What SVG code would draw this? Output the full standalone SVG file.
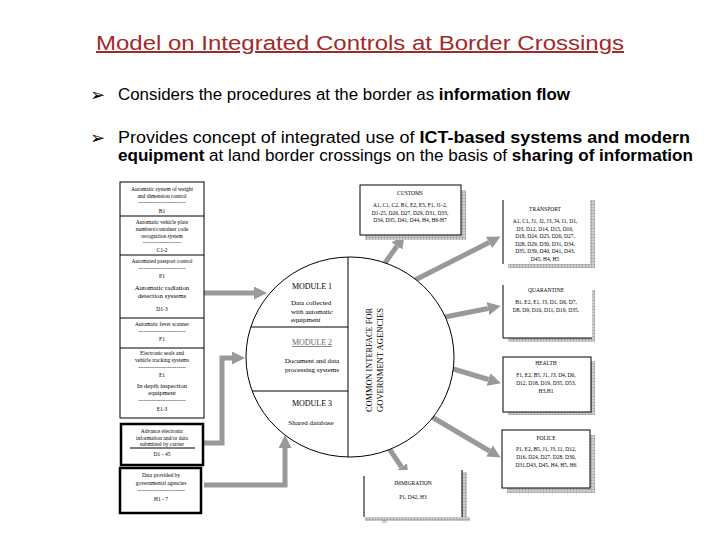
<svg xmlns="http://www.w3.org/2000/svg" width="720" height="540" viewBox="0 0 720 540">
<defs>
<style>
.t{font-family:"Liberation Sans",Arial,sans-serif;fill:#000}
.s{font-family:"Liberation Serif","Times New Roman",serif;fill:#000;text-anchor:middle}
.ln{stroke:#000;stroke-width:1;fill:none}
.bx{stroke:#000;stroke-width:1;fill:#fff}
.thick{stroke:#000;stroke-width:2.5;fill:#fff}
.arr{stroke:#999;stroke-width:5;fill:none;marker-end:url(#ah)}
.shadow{fill:url(#hatch)}
</style>
<pattern id="hatch" width="3" height="3" patternUnits="userSpaceOnUse">
<rect width="3" height="3" fill="#d0d0d0"/>
<path d="M0,0 V3 M0,0 H3" stroke="#8a8a8a" stroke-width="0.8"/>
</pattern>
<marker id="ah" viewBox="0 0 10 10" refX="0" refY="5" markerWidth="13" markerHeight="13" markerUnits="userSpaceOnUse" orient="auto">
<path d="M0,0 L10,5 L0,10 z" fill="#999"/>
</marker>
</defs>
<rect width="720" height="540" fill="#fff"/>

<g id="title">
<text class="t" x="360" y="50" font-size="20" style="fill:#9e2a2a" text-anchor="middle" textLength="528" lengthAdjust="spacingAndGlyphs" text-decoration="underline">Model on Integrated Controls at Border Crossings</text>
</g>

<g id="bullets">
<text x="90" y="101" font-family="DejaVu Sans,sans-serif" font-size="18">➢</text>
<text class="t" x="118" y="100" font-size="16" textLength="452" lengthAdjust="spacingAndGlyphs">Considers the procedures at the border as <tspan font-weight="bold">information flow</tspan></text>
<text x="90" y="144" font-family="DejaVu Sans,sans-serif" font-size="18">➢</text>
<text class="t" x="118" y="143" font-size="16" textLength="572" lengthAdjust="spacingAndGlyphs">Provides concept of integrated use of <tspan font-weight="bold">ICT-based systems and modern</tspan></text>
<text class="t" x="118" y="161" font-size="16" textLength="575" lengthAdjust="spacingAndGlyphs"><tspan font-weight="bold">equipment</tspan> at land border crossings on the basis of <tspan font-weight="bold">sharing of information</tspan></text>
</g>

<g id="connectors">
<line class="arr" x1="204" y1="293" x2="254" y2="293"/>
<polyline class="arr" points="204,443 222,443 222,358 232,358"/>
<polyline class="arr" points="204,485 285,485 285,448"/>
<line class="arr" x1="385" y1="263" x2="397" y2="246"/>
<line class="arr" x1="415" y1="280" x2="489" y2="242.5"/>
<line class="arr" x1="445" y1="317" x2="488" y2="308.5"/>
<line class="arr" x1="450" y1="368" x2="488.5" y2="379.5"/>
<line class="arr" x1="432" y1="417" x2="489.5" y2="451"/>
<line class="arr" x1="388" y1="447" x2="401.5" y2="467"/>
</g>

<g id="left-panel">
<rect x="120" y="182" width="84" height="236" class="bx"/>
<line class="ln" x1="120" y1="216" x2="204" y2="216"/>
<line class="ln" x1="120" y1="255" x2="204" y2="255"/>
<line class="ln" x1="120" y1="318" x2="204" y2="318"/>
<line class="ln" x1="120" y1="348" x2="204" y2="348"/>
<g font-size="5.5">
<text class="s" x="162" y="191">Automatic system of weight</text>
<text class="s" x="162" y="198">and dimension control</text>
<text class="s" x="162" y="204">--------------------------</text>
<text class="s" x="162" y="213">B1</text>
<text class="s" x="162" y="224">Automatic vehicle plate</text>
<text class="s" x="162" y="230.5">numbers/container code</text>
<text class="s" x="162" y="237.5">recognition system</text>
<text class="s" x="162" y="243.5">---------------------</text>
<text class="s" x="162" y="252">C1-2</text>
<text class="s" x="162" y="263">Automated passport control</text>
<text class="s" x="162" y="270">--------------------------</text>
<text class="s" x="162" y="278">P1</text>
<text class="s" x="162" y="290" font-size="6.8">Automatic radiation</text>
<text class="s" x="162" y="298" font-size="6.8">detection systems</text>
<text class="s" x="162" y="311">D1-3</text>
<text class="s" x="162" y="326">Automatic fever scanner</text>
<text class="s" x="162" y="333">--------------------------</text>
<text class="s" x="162" y="341">F1</text>
<text class="s" x="162" y="355">Electronic seals and</text>
<text class="s" x="162" y="362">vehicle tracking systems</text>
<text class="s" x="162" y="369">--------------------------</text>
<text class="s" x="162" y="377">E1</text>
<text class="s" x="162" y="388" font-size="6.5">In depth inspection</text>
<text class="s" x="162" y="395" font-size="6.5">equipment</text>
<text class="s" x="162" y="402">--------------------------</text>
<text class="s" x="162" y="411">E1-3</text>
</g>
</g>

<g id="box-advance">
<rect class="thick" x="121" y="424" width="82" height="41"/>
<line class="ln" x1="130" y1="448" x2="195" y2="448"/>
<g font-size="5.5">
<text class="s" x="162" y="433">Advance electronic</text>
<text class="s" x="162" y="439.5">information and/or data</text>
<text class="s" x="162" y="446">submitted by carrier</text>
<text class="s" x="162" y="456">D1 - 45</text>
</g>
</g>

<g id="box-governmental">
<rect class="thick" x="120" y="468" width="81" height="45"/>
<g font-size="5.5">
<text class="s" x="161" y="477">Data provided by</text>
<text class="s" x="161" y="485">governmental agencies</text>
<text class="s" x="161" y="492">--------------------------</text>
<text class="s" x="161" y="501">H1 - 7</text>
</g>
</g>

<g id="circle">
<ellipse cx="350" cy="357" rx="104" ry="100" class="bx"/>
<line class="ln" x1="348" y1="257" x2="348" y2="457"/>
<line class="ln" x1="251" y1="327" x2="348" y2="327"/>
<line class="ln" x1="252" y1="391" x2="348" y2="391"/>
<text class="s" x="312" y="289" font-size="8">MODULE 1</text>
<text class="s" x="291" y="305" font-size="7" style="text-anchor:start">Data collected</text>
<text class="s" x="291" y="313.5" font-size="7" style="text-anchor:start">with automatic</text>
<text class="s" x="291" y="322" font-size="7" style="text-anchor:start">equipment</text>
<text class="s" x="312" y="345" font-size="8" style="fill:#666" text-decoration="underline">MODULE 2</text>
<text class="s" x="312" y="363" font-size="7">Document and data</text>
<text class="s" x="312" y="372" font-size="7">processing systems</text>
<text class="s" x="312" y="406" font-size="8">MODULE 3</text>
<text class="s" x="311" y="425" font-size="7">Shared database</text>
<text class="s" transform="translate(372,360) rotate(-90)" font-size="8" textLength="104" lengthAdjust="spacingAndGlyphs">COMMON INTERFACE FOR</text>
<text class="s" transform="translate(383,360) rotate(-90)" font-size="8" textLength="104" lengthAdjust="spacingAndGlyphs">GOVERNMENT AGENCIES</text>
</g>

<g id="box-customs">
<rect class="shadow" x="365" y="190" width="101" height="50"/>
<rect x="360" y="185" width="101" height="50" class="bx"/>
<g font-size="5.5">
<text class="s" x="410" y="195">CUSTOMS</text>
<text class="s" x="410" y="207">A1, C1, C2, B1, E2, E5, F1, J1-2,</text>
<text class="s" x="410" y="214.5">D1-25, D26, D27, D29, D31, D33,</text>
<text class="s" x="410" y="222">D34, D35, D41, D44, H4, H6-H7</text>
</g>
</g>

<g id="box-transport">
<rect class="shadow" x="508" y="200" width="87" height="68"/>
<rect x="503" y="196" width="87" height="68" fill="#fff"/>
<line class="ln" x1="503" y1="200" x2="503" y2="264"/>
<g font-size="5.5">
<text class="s" x="545" y="211">TRANSPORT</text>
<text class="s" x="545" y="223">A1, C1, J1, J2, J3, J4, I1, D1,</text>
<text class="s" x="545" y="230.5">D3,     D12, D14, D15, D16,</text>
<text class="s" x="545" y="238">D18,    D24, D25, D26, D27,</text>
<text class="s" x="545" y="245.5">D28, D29, D30, D31, D34,</text>
<text class="s" x="545" y="253">D35,    D39, D40, D41, D43,</text>
<text class="s" x="545" y="260.5">D45, H4, H5</text>
</g>
</g>

<g id="box-quarantine">
<rect class="shadow" x="508" y="290" width="87" height="52"/>
<rect x="503" y="285" width="89" height="53" fill="#fff"/>
<polyline class="ln" points="503,285 503,338 592,338"/>
<g font-size="5.5">
<text class="s" x="546" y="292">QUARANTINE</text>
<text class="s" x="546" y="304">B1, E2, E1, J3, D1, D6, D7,</text>
<text class="s" x="546" y="312">D8, D9, D10, D11, D19, D35.</text>
</g>
</g>

<g id="box-health">
<rect class="shadow" x="508" y="361" width="87" height="54"/>
<rect x="503" y="357" width="88" height="55" class="bx"/>
<g font-size="5.5">
<text class="s" x="546" y="365">HEALTH</text>
<text class="s" x="546" y="377">F1, E2, B5, J1, J3, D4, D6,</text>
<text class="s" x="546" y="385">D12, D18, D19, D35, D53,</text>
<text class="s" x="546" y="393">H3,H1</text>
</g>
</g>

<g id="box-police">
<rect class="shadow" x="507" y="435" width="88" height="58"/>
<rect x="502" y="430" width="88" height="58" class="bx"/>
<g font-size="5.5">
<text class="s" x="546" y="440">POLICE</text>
<text class="s" x="546" y="451">P1, E2, B5, J1, J3, I1, D12,</text>
<text class="s" x="546" y="459">D16, D24, D27, D28, D30,</text>
<text class="s" x="546" y="467">D31,D43, D45, H4, H5, H6</text>
</g>
</g>

<g id="box-immigration">
<rect class="shadow" x="365" y="517" width="105" height="4"/>
<rect class="shadow" x="462" y="472" width="5" height="47"/>
<rect x="364" y="470" width="98" height="47" fill="#fff"/>
<line class="ln" x1="364" y1="476" x2="364" y2="517"/>
<line class="ln" x1="462" y1="470" x2="462" y2="517"/>
<text class="s" x="413" y="485" font-size="5.5">IMMIGRATION</text>
<text class="s" x="413" y="499" font-size="5.5">P1, D42, H3</text>
<text class="s" x="384" y="523" font-size="5" style="fill:#666">20</text>
</g>
</svg>
